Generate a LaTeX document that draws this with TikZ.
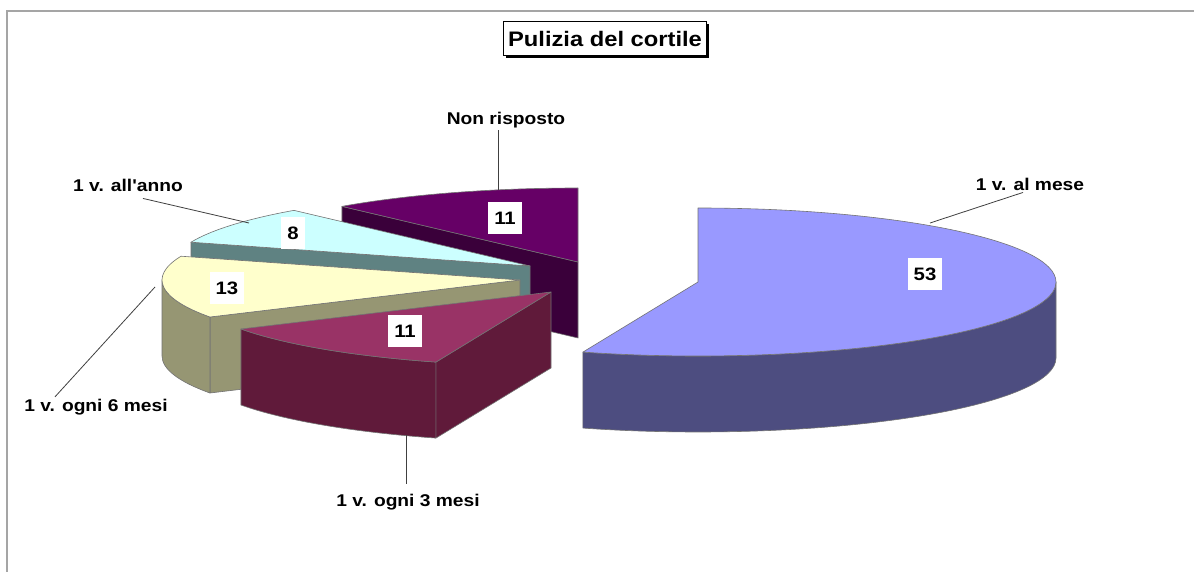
\documentclass[tikz,border=0pt]{standalone}
\usepackage{fontspec}
\setmainfont{Liberation Sans}
\newfontfamily\chartfont[FakeStretch=1.13]{Liberation Sans}
\usetikzlibrary{calc}
\usetikzlibrary{shadows}

\definecolor{mesetop}{RGB}{153,153,255}
\definecolor{meseside}{RGB}{77,77,128}
\definecolor{nonrtop}{RGB}{102,0,102}
\definecolor{nonrside}{RGB}{58,0,58}
\definecolor{tretop}{RGB}{153,51,102}
\definecolor{treside}{RGB}{96,26,58}
\definecolor{seitop}{RGB}{255,255,204}
\definecolor{seiside}{RGB}{150,150,115}
\definecolor{annotop}{RGB}{204,255,255}
\definecolor{annoside}{RGB}{95,130,130}
\definecolor{framegray}{RGB}{165,165,165}

\begin{document}
\begin{tikzpicture}[x=1pt, y=-1pt,
	rad/.style={x radius=358, y radius=74},
	face/.style={draw=black!55, line width=0.6pt, line join=round},
	lbl/.style={font=\chartfont\bfseries\fontsize{17}{20}\selectfont, inner sep=2pt},
	num/.style={fill=white, font=\chartfont\bfseries\fontsize{18}{20}\selectfont, inner xsep=6pt, minimum height=32pt},
	leader/.style={draw=black!75, line width=0.8pt},
	titlebox/.style={draw=black, fill=white, line width=1pt, minimum height=34pt, inner xsep=5pt,
		font=\chartfont\bfseries\fontsize{21}{24}\selectfont,
		drop shadow={shadow xshift=2.5pt, shadow yshift=-2.5pt, opacity=1, fill=black}}]
	\useasboundingbox (0,0) rectangle (1194,572);
	\fill[white] (0,0) rectangle (1194,572);
	\draw[framegray, line width=2pt] (7,572) -- (7,11) -- (1194,11);
	
	\node[titlebox] (title) at (605,39) {Pulizia del cortile};
	
	% Non risposto
	\coordinate (anonr) at (578,262);
	\filldraw[face, fill=nonrside] (anonr) -- ($(anonr)+(228.75:358 and 74)$) -- ++(0,76) -- ($(anonr)+(0,76)$) -- cycle;
	\filldraw[face, fill=nonrtop] (anonr) -- ($(anonr)+(228.75:358 and 74)$) arc[start angle=228.75, end angle=270, rad] -- cycle;
	
	% 1 v. all'anno
	\coordinate (aanno) at (530,266);
	\filldraw[face, fill=annoside] (aanno) -- ($(aanno)+(198.75:358 and 74)$) -- ++(0,76) -- ($(aanno)+(0,76)$) -- cycle;
	\filldraw[face, fill=annotop] (aanno) -- ($(aanno)+(198.75:358 and 74)$) arc[start angle=198.75, end angle=228.75, rad] -- cycle;
	
	% 1 v. ogni 6 mesi
	\coordinate (asei) at (520,280);
	\filldraw[face, fill=seiside] (asei) -- ($(asei)+(150:358 and 74)$) -- ++(0,76) -- ($(asei)+(0,76)$) -- cycle;
	\filldraw[face, fill=seiside] ($(asei)+(150:358 and 74)$) arc[start angle=150, end angle=180, rad] -- ++(0,76) arc[start angle=180, end angle=150, rad] -- cycle;
	\filldraw[face, fill=seitop] (asei) -- ($(asei)+(150:358 and 74)$) arc[start angle=150, end angle=198.75, rad] -- cycle;
	
	% 1 v. ogni 3 mesi
	\coordinate (atre) at (551,292);
	\filldraw[face, fill=treside] (atre) -- ($(atre)+(108.75:358 and 74)$) -- ++(0,76) -- ($(atre)+(0,76)$) -- cycle;
	\filldraw[face, fill=treside] ($(atre)+(108.75:358 and 74)$) arc[start angle=108.75, end angle=150, rad] -- ++(0,76) arc[start angle=150, end angle=108.75, rad] -- cycle;
	\filldraw[face, fill=tretop] (atre) -- ($(atre)+(108.75:358 and 74)$) arc[start angle=108.75, end angle=150, rad] -- cycle;
	
	% 1 v. al mese
	\coordinate (amese) at (698,282);
	\filldraw[face, fill=meseside] ($(amese)+(0:358 and 74)$) arc[start angle=0, end angle=108.75, rad] -- ++(0,76) arc[start angle=108.75, end angle=0, rad] -- cycle;
	\filldraw[face, fill=mesetop] (amese) -- ($(amese)+(-90:358 and 74)$) arc[start angle=-90, end angle=108.75, rad] -- cycle;
	
	% valori
	\node[num] (n53) at (925,274) {53};
	\node[num] (n11nonr) at (505,218) {11};
	\node[num] (n8) at (293,233) {8};
	\node[num] (n13) at (227,288) {13};
	\node[num] (n11tre) at (405,331) {11};
	
	% etichette
	\node[lbl] (lmese) at (1030,184) {1 v. al mese};
	\node[lbl] (lnonr) at (506,120) {Non risposto};
	\node[lbl] (lanno) at (128,185) {1 v. all'anno};
	\node[lbl] (lsei) at (96,407) {1 v. ogni 6 mesi};
	\node[lbl] (ltre) at (408,502) {1 v. ogni 3 mesi};
	
	\coordinate (tipmese) at (930,223);
	\coordinate (tipnonr) at (498,190);
	\coordinate (tipanno) at (249,223);
	\coordinate (tipsei) at (155,287);
	\coordinate (tiptre) at (406,435);
	
	\draw[leader] ($(lmese.south)+(-7,0)$) -- (tipmese);
	\draw[leader] (lnonr.south -| tipnonr) -- (tipnonr);
	\draw[leader] ($(lanno.south)+(15,5)$) -- (tipanno);
	\draw[leader] ($(lsei.north)+(-41,0)$) -- (tipsei);
	\draw[leader] ($(ltre.north -| tiptre)+(0,-8)$) -- (tiptre);
\end{tikzpicture}
\end{document}
